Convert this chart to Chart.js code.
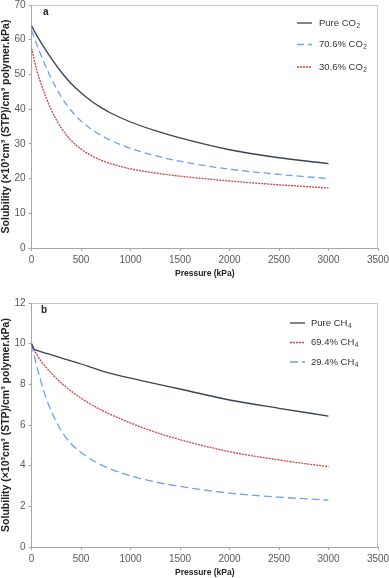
<!DOCTYPE html>
<html>
<head>
<meta charset="utf-8">
<script src="https://cdn.jsdelivr.net/npm/chart.js@4"></script>
<style>
  html, body { margin: 0; padding: 0; background: #fff; }
  .box { position: absolute; left: 0; width: 389px; }
  #boxA { top: 0; height: 290px; }
  #boxB { top: 290px; height: 288px; }
</style>
</head>
<body>
<div class="box" id="boxA"><canvas id="chartA" width="389" height="290"></canvas></div>
<div class="box" id="boxB"><canvas id="chartB" width="389" height="288"></canvas></div>
<script>
// panel a - CO2 mixtures
var pressureA = [0, 50, 100, 200, 300, 400, 500, 600, 700, 800, 1000, 1250, 1500, 2000, 2500, 3000];
var pureCO2 = [64, 61.4, 59.0, 54.6, 50.7, 47.4, 44.7, 42.4, 40.5, 38.9, 36.3, 33.8, 31.7, 28.3, 26.0, 24.3];
var co2_706 = [62.7, 58.8, 55.2, 48.8, 43.6, 39.6, 36.6, 34.3, 32.5, 31.0, 28.7, 26.6, 25.0, 22.7, 21.2, 20.0];
var co2_306 = [57.6, 51.6, 47.0, 39.8, 34.6, 31.0, 28.5, 26.7, 25.3, 24.3, 22.8, 21.6, 20.7, 19.3, 18.2, 17.3];

// panel b - CH4 mixtures
var pressureB = [0, 25, 50, 100, 150, 200, 300, 400, 500, 700, 1000, 1250, 1500, 2000, 2500, 3000];
var pureCH4 = [10, 9.74, 9.68, 9.6, 9.52, 9.45, 9.3, 9.15, 9.0, 8.68, 8.3, 8.03, 7.77, 7.23, 6.82, 6.44];
var ch4_694 = [10, 9.72, 9.5, 9.12, 8.82, 8.55, 8.07, 7.67, 7.32, 6.75, 6.1, 5.65, 5.28, 4.69, 4.28, 3.95];
var ch4_294 = [10, 9.45, 8.95, 8.05, 7.3, 6.68, 5.72, 5.08, 4.65, 4.05, 3.5, 3.2, 2.98, 2.65, 2.45, 2.31];

var xTicks = [0, 500, 1000, 1500, 2000, 2500, 3000, 3500];
var yTicksA = [0, 10, 20, 30, 40, 50, 60, 70];
var yTicksB = [0, 2, 4, 6, 8, 10, 12];

var yTitle = "Solubility (\u00d710\u00b3cm\u00b3 (STP)/cm\u00b3 polymer.kPa)";
var xTitle = "Pressure (kPa)";

var FONT = '"Liberation Sans", Arial, sans-serif';
var DARK = "#3b4253", BLUE = "#6f9ff0", RED = "#c9444a", AXIS = "#a6a6a6";

function pts(xs, ys) {
  return xs.map(function (x, i) { return { x: x, y: ys[i] }; });
}

function series(label, sub, xs, ys, color, dash) {
  return {
    label: label, sub: sub,
    data: pts(xs, ys),
    borderColor: color,
    borderWidth: 1.3,
    borderDash: dash,
    pointRadius: 0,
    fill: false,
    cubicInterpolationMode: "monotone"
  };
}

// frame, panel letter and legend drawn next to the plot
var decor = {
  id: "decor",
  afterDraw: function (chart) {
    var o = chart.options.plugins.decor;
    var ctx = chart.ctx, a = chart.chartArea;
    ctx.save();
    ctx.strokeStyle = "#c4c4c4";
    ctx.lineWidth = 1;
    ctx.beginPath();
    ctx.moveTo(a.left, a.top + 0.5);
    ctx.lineTo(a.right - 0.5, a.top + 0.5);
    ctx.lineTo(a.right - 0.5, a.bottom);
    ctx.stroke();

    ctx.fillStyle = "#222";
    ctx.font = "bold 10px " + FONT;
    ctx.textBaseline = "middle";
    ctx.fillText(o.letter, o.letterX, o.letterY);

    chart.data.datasets.forEach(function (ds, i) {
      var y = o.legY[i];
      ctx.strokeStyle = ds.borderColor;
      ctx.lineWidth = ds.borderWidth;
      ctx.setLineDash(ds.borderDash || []);
      ctx.beginPath();
      ctx.moveTo(o.lineX0, y);
      ctx.lineTo(o.lineX1, y);
      ctx.stroke();
      ctx.setLineDash([]);
      ctx.fillStyle = "#333";
      ctx.font = "9.5px " + FONT;
      ctx.textBaseline = "middle";
      ctx.fillText(ds.label, o.textX, y);
      var w = ctx.measureText(ds.label).width;
      ctx.font = "6.5px " + FONT;
      ctx.fillText(ds.sub, o.textX + w + 0.5, y + 3);
    });
    ctx.restore();
  }
};

function makeChart(id, datasets, yMax, yTicks, padBottom, padTop, deco) {
  return new Chart(document.getElementById(id), {
    type: "line",
    data: { datasets: datasets },
    plugins: [decor],
    options: {
      responsive: false,
      animation: false,
      layout: { padding: { left: 0, right: 11, top: padTop, bottom: padBottom } },
      plugins: { legend: { display: false }, tooltip: { enabled: false }, decor: deco },
      scales: {
        x: {
          type: "linear", min: 0, max: 3500,
          afterBuildTicks: function (s) { s.ticks = xTicks.map(function (v) { return { value: v }; }); },
          grid: { drawOnChartArea: false, drawTicks: true, tickLength: 3, color: AXIS },
          border: { color: AXIS },
          ticks: {
            color: "#595959", font: { family: FONT, size: 10 }, padding: 3, maxRotation: 0,
            callback: function (v) { return String(v); }
          },
          title: { display: true, text: xTitle, color: "#222", font: { family: FONT, size: 8.5, weight: "bold" }, padding: { top: 3, bottom: 0 } },
          afterFit: function (s) { s.height = 31; s.paddingLeft = 0; s.paddingRight = 0; }
        },
        y: {
          type: "linear", min: 0, max: yMax,
          afterBuildTicks: function (s) { s.ticks = yTicks.map(function (v) { return { value: v }; }); },
          grid: { drawOnChartArea: false, drawTicks: true, tickLength: 3, color: AXIS },
          border: { color: AXIS },
          ticks: {
            color: "#595959", font: { family: FONT, size: 10 }, padding: 3,
            callback: function (v) { return String(v); }
          },
          title: { display: true, text: yTitle, color: "#222", font: { family: FONT, size: 10.5, weight: "bold" }, padding: 0 },
          afterFit: function (s) { s.width = 31.5; s.paddingTop = 0; s.paddingBottom = 0; }
        }
      }
    }
  });
}

makeChart("chartA", [
  series("Pure CO", "2", pressureA, pureCO2, DARK, []),
  series("70.6% CO", "2", pressureA, co2_706, BLUE, [7, 4]),
  series("30.6% CO", "2", pressureA, co2_306, RED, [2, 1])
], 70, yTicksA, 11, 5, {
  letter: "a", letterX: 43, letterY: 12,
  legY: [23, 44.5, 67], lineX0: 297, lineX1: 312, textX: 319
});

makeChart("chartB", [
  series("Pure CH", "4", pressureB, pureCH4, DARK, []),
  series("69.4% CH", "4", pressureB, ch4_694, RED, [2, 1]),
  series("29.4% CH", "4", pressureB, ch4_294, BLUE, [8, 4])
], 12, yTicksB, 0, 13, {
  letter: "b", letterX: 41, letterY: 20,
  legY: [33, 52.5, 72], lineX0: 290, lineX1: 305, textX: 311
});
</script>
</body>
</html>
